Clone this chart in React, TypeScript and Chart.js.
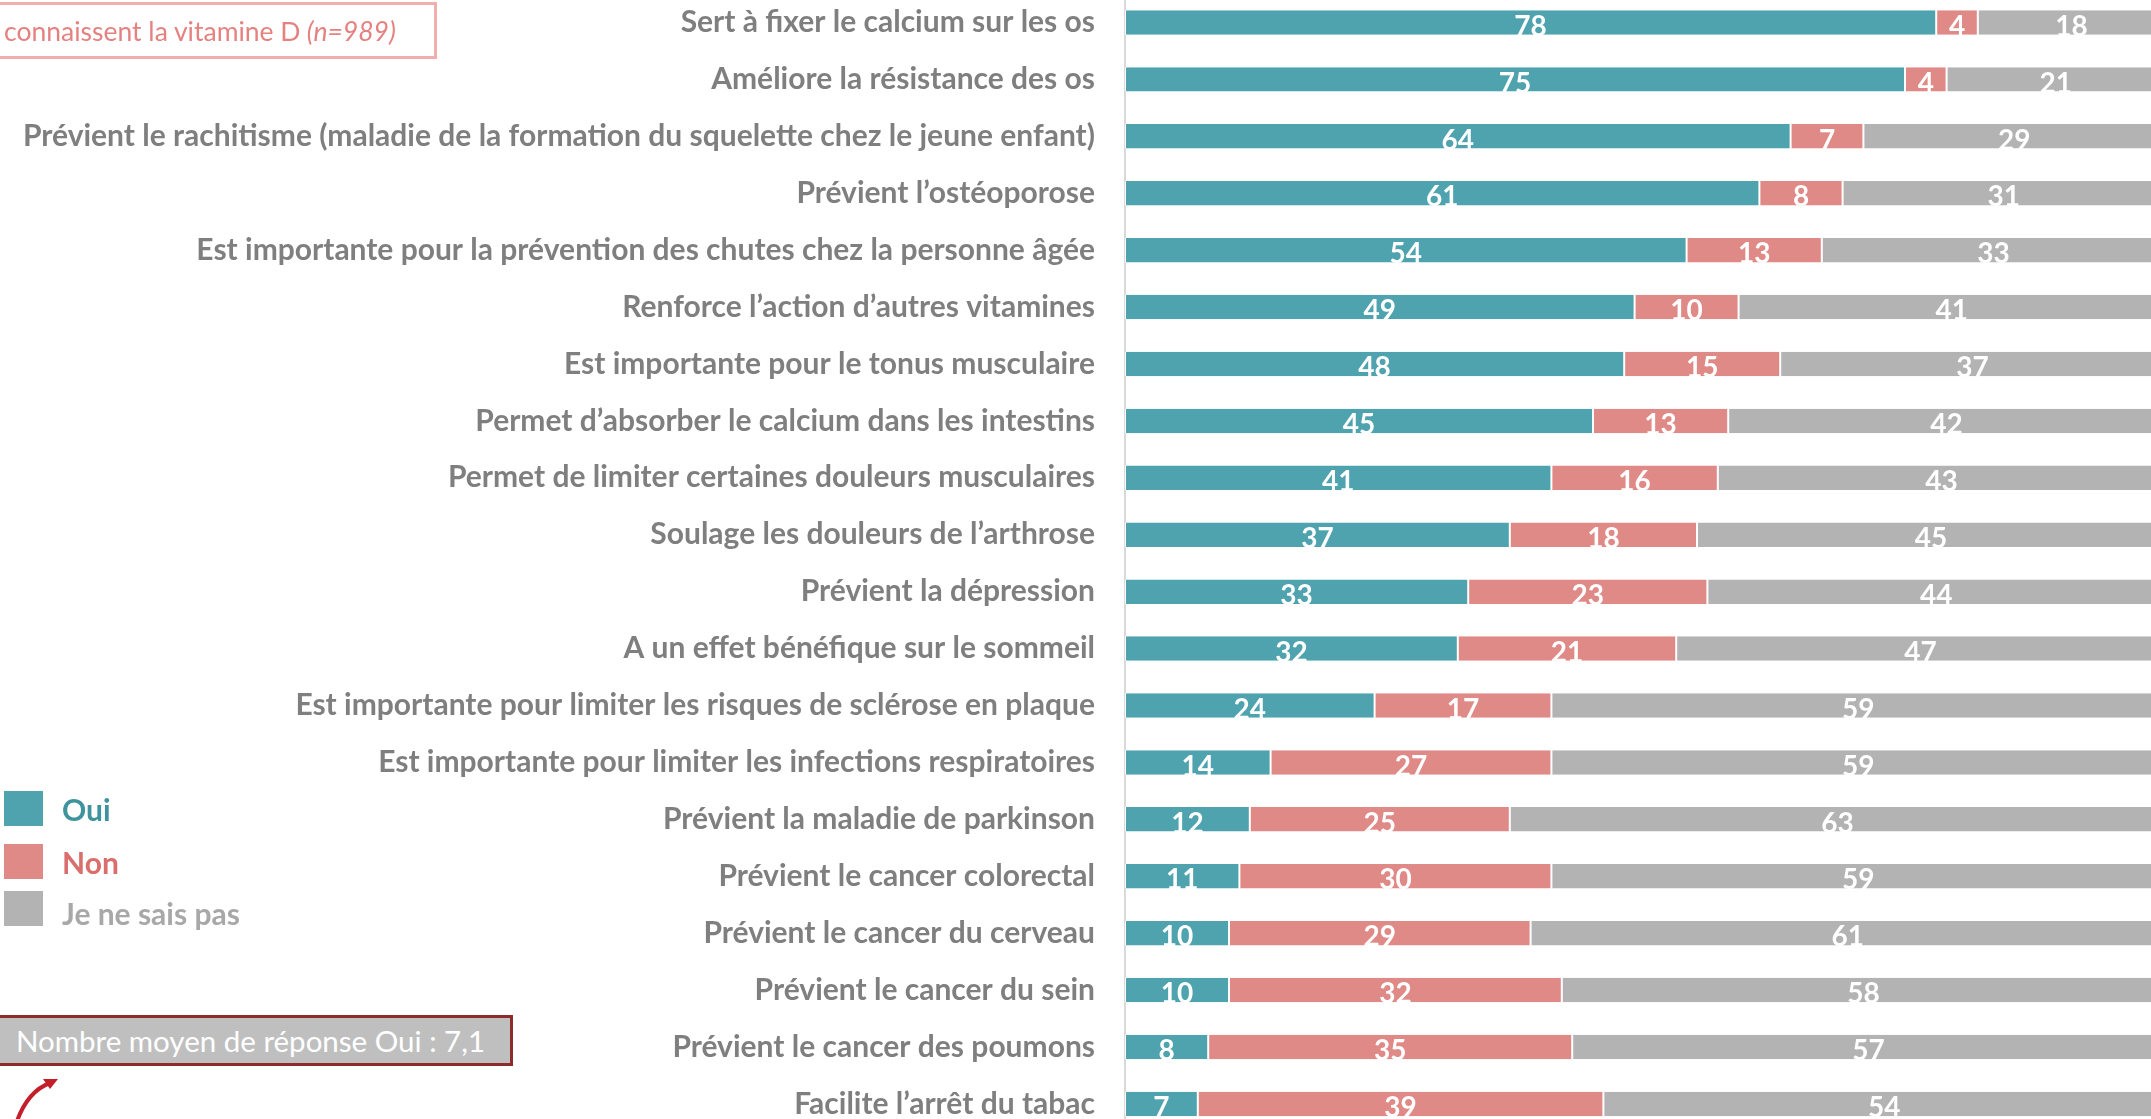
import React, { useEffect, useRef } from "react";
import { Chart, registerables } from "chart.js";

Chart.register(...registerables);

const categories = [
  "Sert à fixer le calcium sur les os",
  "Améliore la résistance des os",
  "Prévient le rachitisme (maladie de la formation du squelette chez le jeune enfant)",
  "Prévient l’ostéoporose",
  "Est importante pour la prévention des chutes chez la personne âgée",
  "Renforce l’action d’autres vitamines",
  "Est importante pour le tonus musculaire",
  "Permet d’absorber le calcium dans les intestins",
  "Permet de limiter certaines douleurs musculaires",
  "Soulage les douleurs de l’arthrose",
  "Prévient la dépression",
  "A un effet bénéfique sur le sommeil",
  "Est importante pour limiter les risques de sclérose en plaque",
  "Est importante pour limiter les infections respiratoires",
  "Prévient la maladie de parkinson",
  "Prévient le cancer colorectal",
  "Prévient le cancer du cerveau",
  "Prévient le cancer du sein",
  "Prévient le cancer des poumons",
  "Facilite l’arrêt du tabac",
];

const oui = [78, 75, 64, 61, 54, 49, 48, 45, 41, 37, 33, 32, 24, 14, 12, 11, 10, 10, 8, 7];
const non = [4, 4, 7, 8, 13, 10, 15, 13, 16, 18, 23, 21, 17, 27, 25, 30, 29, 32, 35, 39];
const nsp = [18, 21, 29, 31, 33, 41, 37, 42, 43, 45, 44, 47, 59, 59, 63, 59, 61, 58, 57, 54];

const seriesNames = ["Oui", "Non", "Je ne sais pas"];
const seriesColors = ["#4FA3AE", "#E08A87", "#B3B3B3"];
const legendTextColors = ["#3F939D", "#D96E6C", "#A8A8A8"];

const subtitle = "connaissent la vitamine D ";
const subtitleN = "(n=989)";
const averageNote = "Nombre moyen de réponse Oui : 7,1";

const valueLabels = {
  id: "valueLabels",
  afterDatasetsDraw(chart: any) {
    const ctx = chart.ctx;
    ctx.save();
    ctx.font = "bold 28px Lato";
    ctx.fillStyle = "#FFFFFF";
    ctx.textAlign = "center";
    ctx.textBaseline = "alphabetic";
    chart.data.datasets.forEach((ds: any, i: number) => {
      const meta = chart.getDatasetMeta(i);
      meta.data.forEach((bar: any, j: number) => {
        const p = bar.getProps(["x", "base", "y", "height"], true);
        ctx.fillText(String(ds.data[j]), (p.x + p.base) / 2, p.y + p.height / 2 + 1);
      });
    });
    ctx.restore();
  },
};

function ChartCanvas() {
  const ref = useRef<HTMLCanvasElement | null>(null);
  useEffect(() => {
    if (!ref.current) return;
    const values = [oui, non, nsp];
    const chart = new Chart(ref.current, {
      type: "bar",
      data: {
        labels: categories,
        datasets: values.map((v, i) => ({
          label: seriesNames[i],
          data: v,
          backgroundColor: seriesColors[i],
          borderColor: "#FFFFFF",
          borderWidth: { left: 1, right: 1, top: 0, bottom: 0 },
          borderSkipped: false,
          barPercentage: 0.43,
          categoryPercentage: 1,
        })),
      },
      options: {
        indexAxis: "y",
        responsive: false,
        animation: false,
        layout: { padding: { top: 24, bottom: 25.6, left: 0, right: 35 } },
        plugins: {
          legend: { display: false },
          tooltip: { enabled: false },
        },
        scales: {
          x: { stacked: true, min: 0, max: 100, display: false },
          y: {
            stacked: true,
            grid: { display: false, drawTicks: true, tickLength: 30 },
            border: { display: true, color: "#D9D9D9", width: 2 },
            ticks: {
              color: "#7F7F7F",
              autoSkip: false,
              padding: 0,
              font: { family: "Lato", weight: "bold", size: 30 },
            },
            afterFit: (s: any) => {
              s.width = 1125;
            },
          },
        },
      },
      plugins: [valueLabels],
    } as any);
    return () => chart.destroy();
  }, []);
  return (
    <canvas
      ref={ref}
      width={2200}
      height={1188}
      style={{ position: "absolute", left: 0, top: -30, display: "block" }}
    />
  );
}

export default function App() {
  return (
    <div
      style={{
        position: "fixed",
        left: 0,
        top: 0,
        width: 2151,
        height: 1119,
        overflow: "hidden",
        background: "#FFFFFF",
        fontFamily: "Lato, sans-serif",
      }}
    >
      <ChartCanvas />
      <div
        style={{
          position: "absolute",
          left: -6,
          top: 2,
          width: 443,
          height: 57,
          boxSizing: "border-box",
          border: "3px solid #F0AEAE",
          display: "flex",
          alignItems: "center",
          paddingLeft: 7,
          color: "#E58280",
          fontSize: 26.5,
          whiteSpace: "nowrap",
        }}
      >
        {subtitle}
        <i>&nbsp;{subtitleN}</i>
      </div>
      {seriesNames.map((n, i) => (
        <div key={n}>
          <div
            style={{
              position: "absolute",
              left: 4,
              top: [791, 844, 891][i],
              width: 39,
              height: 35,
              background: seriesColors[i],
            }}
          />
          <div
            style={{
              position: "absolute",
              left: 62,
              top: [809, 862, 913][i] - 20,
              height: 40,
              lineHeight: "40px",
              fontSize: 30,
              fontWeight: 700,
              color: legendTextColors[i],
              whiteSpace: "nowrap",
            }}
          >
            {n}
          </div>
        </div>
      ))}
      <div
        style={{
          position: "absolute",
          left: -3,
          top: 1015,
          width: 516,
          height: 51,
          boxSizing: "border-box",
          border: "3px solid #8E2B2B",
          background: "#BFBFBF",
          color: "#FFFFFF",
          fontSize: 29.5,
          display: "flex",
          alignItems: "center",
          paddingLeft: 16,
          whiteSpace: "nowrap",
        }}
      >
        {averageNote}
      </div>
      <svg
        width={120}
        height={60}
        style={{ position: "absolute", left: 0, top: 1065 }}
      >
        <path d="M 17 56 Q 28 26 50 18" stroke="#C41E2A" strokeWidth={4} fill="none" />
        <path d="M 58 14 L 43 14 L 50 24 Z" fill="#C41E2A" />
      </svg>
    </div>
  );
}
